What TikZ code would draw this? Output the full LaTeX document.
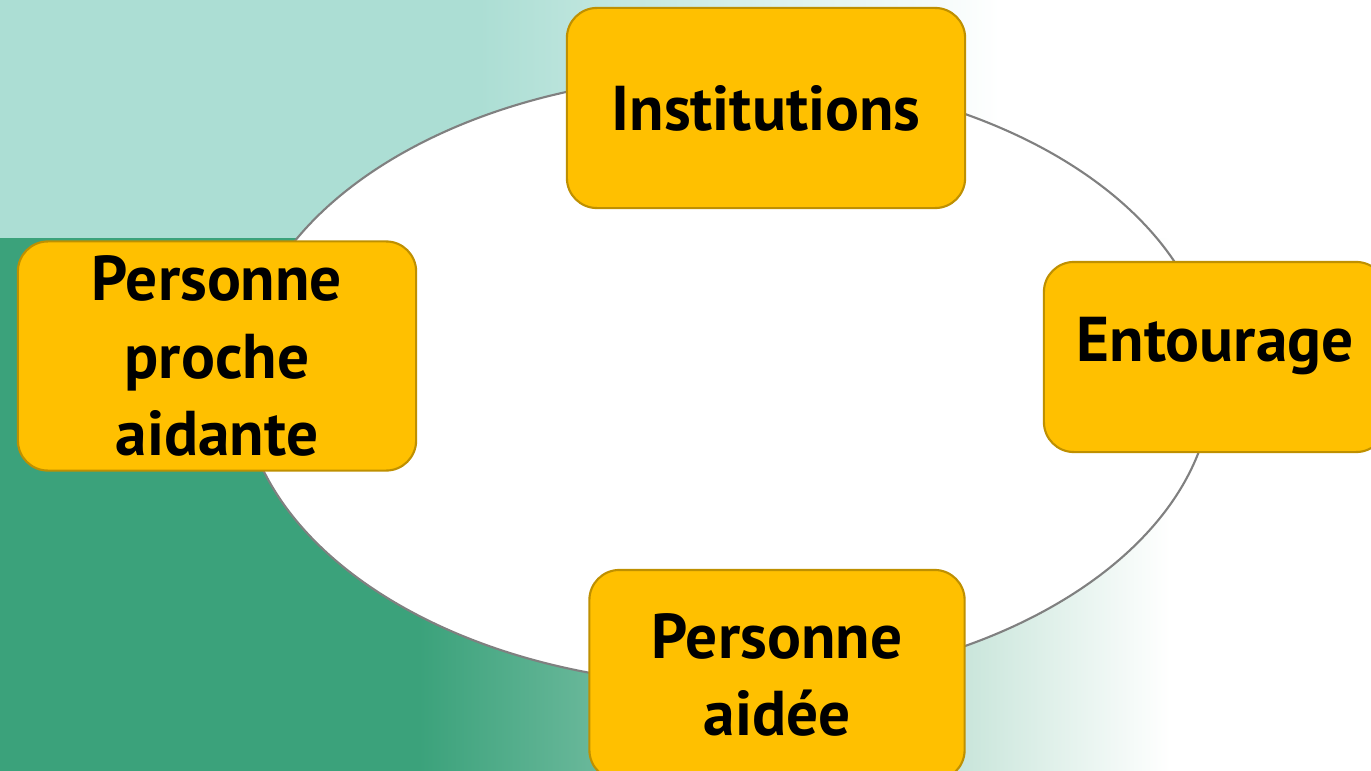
\documentclass[tikz,border=0pt]{standalone}
\usepackage{fontspec}
\setmainfont{PT Sans}
\definecolor{tealLight}{HTML}{ACDED4}
\definecolor{greenDark}{HTML}{3BA27B}
\definecolor{boxFill}{HTML}{FFC000}
\definecolor{boxLine}{HTML}{BF9000}
\definecolor{ringLine}{HTML}{808080}
\begin{document}
\begin{tikzpicture}[x=0.01cm,y=-0.01cm,
		box/.style={draw=boxLine,fill=boxFill,line width=0.6pt,rounded corners=0.3cm,align=center,font=\fontsize{18}{22}\selectfont\bfseries},
		ring/.style={draw=ringLine,fill=white,line width=0.6pt}]
	\useasboundingbox (0,0) rectangle (1371,770);
	\clip (0,0) rectangle (1371,770);
	% background
	\fill[tealLight] (-20,-20) rectangle (490,240);
	\shade[left color=tealLight,right color=white] (479,-20) rectangle (1000,240);
	\fill[greenDark] (-20,238) rectangle (430,800);
	\shade[left color=greenDark,right color=white] (419,238) rectangle (1170,800);
	\draw[ring] (727,380) ellipse [x radius=4.85cm,y radius=3.05cm];
	% nodes
	\node[box,minimum width=3.98cm,minimum height=2cm] (Inst) at (766,108) {Institutions};
	\node[box,minimum width=3.98cm,minimum height=2.29cm] (PPA) at (217,356) {Personne\\proche\\aidante};
	\node[box,minimum width=3.42cm,minimum height=1.9cm,text depth=0.36cm] (Ent) at (1215,357) {Entourage};
	\node[box,minimum width=3.75cm,minimum height=2.1cm] (PA) at (777,675) {Personne\\aidée};
\end{tikzpicture}
\end{document}
